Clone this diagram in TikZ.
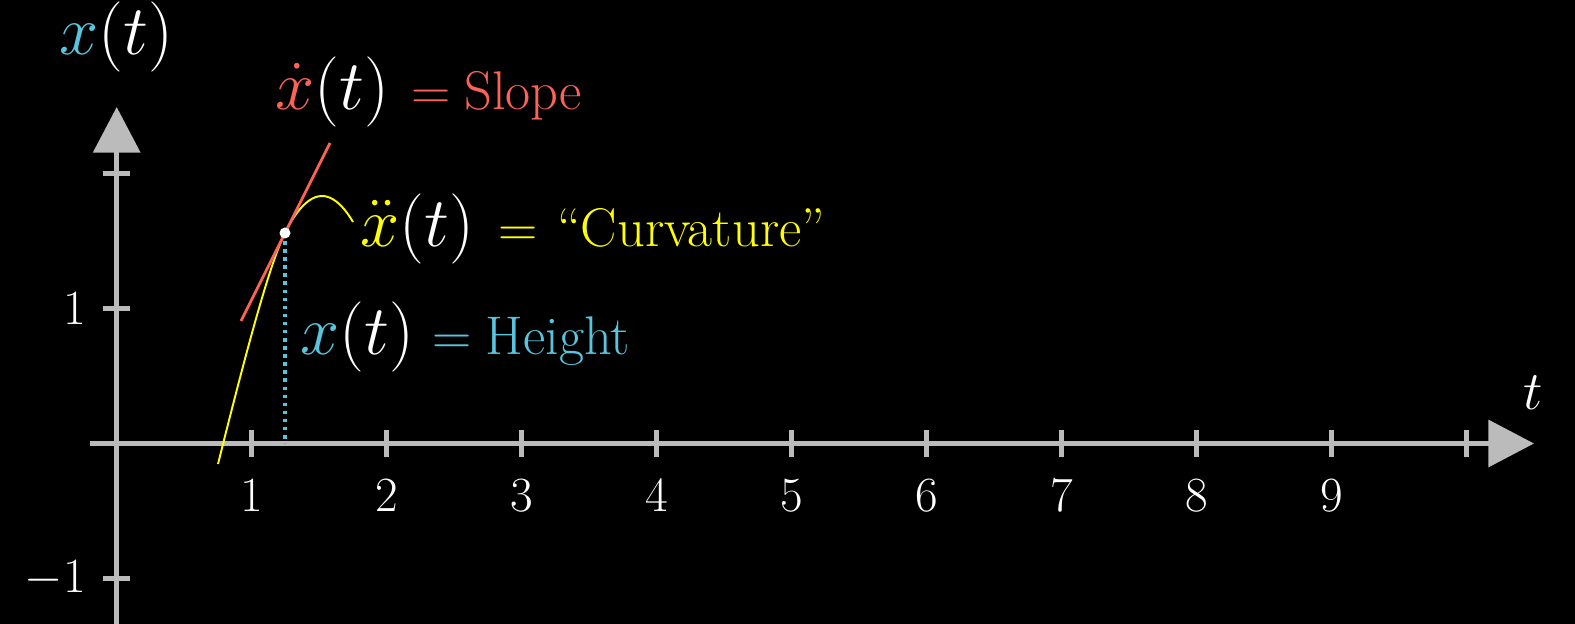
\RequirePackage{fix-cm}
\documentclass[tikz,border=0pt]{standalone}
\usepackage{amsmath}
\usetikzlibrary{arrows.meta, calc}
\definecolor{axisgrey}{HTML}{BBBBBB}
\definecolor{heightblue}{HTML}{58C4DD}
\definecolor{slopered}{HTML}{FC6255}
\definecolor{curvyellow}{HTML}{FFFF00}
\newcommand{\mathsz}{\fontsize{40}{43}\selectfont}
\newcommand{\wordsz}{\fontsize{31}{34}\selectfont}

\begin{document}
\begin{tikzpicture}[x=0.02cm, y=-0.02cm,
  axis/.style={draw=axisgrey, line width=2.8pt, -{Triangle[length=26pt, width=26.5pt]}},
  axtick/.style={draw=axisgrey, line width=2.8pt},
  numlabel/.style={text=white, inner sep=0pt, font=\fontsize{28}{30}\selectfont},
  eqlabel/.style={anchor=base west, inner sep=0pt, text=white}
]
  \fill[black] (0,0) rectangle (1575,624);
  \useasboundingbox (0,0) rectangle (1575,624);

  \coordinate (O) at (116.7,443.5);
  \coordinate (P) at (285,233);

  % axes
  \draw[axis] (90,443.5) -- (1534,443.5);
  \draw[axis] (116.7,630) -- (116.7,107);
  \foreach \k in {1,...,10}
    \draw[axtick] ($(O)+(135*\k,-13.5)$) -- ($(O)+(135*\k,13.5)$);
  \foreach \k in {-1,1,2}
    \draw[axtick] ($(O)+(-13.5,-135*\k)$) -- ($(O)+(13.5,-135*\k)$);
  \foreach \k in {1,...,9}
    \node[numlabel] (tl\k) at ($(O)+(135*\k,52)$) {$\k$};
  \node[numlabel, anchor=east] (yl1) at (86,309) {$1$};
  \node[numlabel, anchor=east] (ylm1) at (86,579) {$-1$};
  \node[anchor=base, inner sep=0pt, text=white, font=\fontsize{31}{34}\selectfont] (tlab) at (1533,410) {$t$};
  \node[anchor=base, inner sep=0pt, text=white, font=\mathsz] (xlab) at (116.5,55) {$\color{heightblue}x\color{white}(t)$};

  % curve, tangent, height
  \draw[heightblue, line width=2pt, dash pattern=on 2pt off 2.6pt] (P) -- (P |- O);
  \draw[curvyellow, line width=1.1pt] (218,464) .. controls (248,344) and (270,263) .. (P)
    parabola bend (322,196) (353,222);
  \draw[slopered, line width=1.6pt] ($(P)+(-44,88)$) -- ($(P)+(45,-90)$);
  \fill[white] (P) circle[radius=5.5];

  % labels
  \node[eqlabel] (slope) at (275,110) {{\mathsz$\color{slopered}\dot{x}\color{white}(t)$}\hspace{13pt}{\wordsz\color{slopered}$=$\hspace{7.5pt}Slope}};
  \node[eqlabel] (curv) at (360,247) {{\mathsz$\color{curvyellow}\ddot{x}\color{white}(t)$}\hspace{14pt}{\wordsz\color{curvyellow}$=$\hspace{11pt}``Curvature''}};
  \node[eqlabel] (height) at (300,355) {{\mathsz$\color{heightblue}x\color{white}(t)$}\hspace{10.5pt}{\wordsz\color{heightblue}$=$\hspace{8pt}Height}};
\end{tikzpicture}
\end{document}
